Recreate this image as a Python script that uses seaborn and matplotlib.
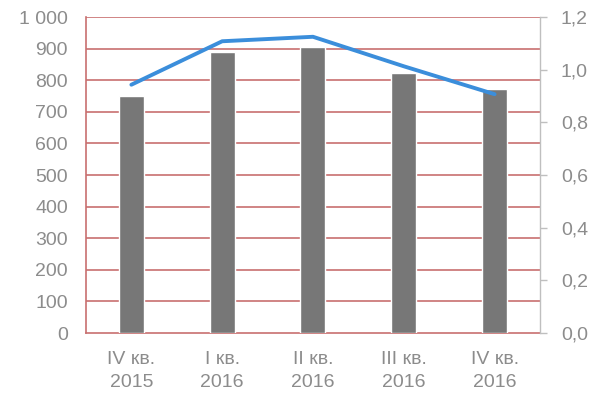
import matplotlib
matplotlib.use("Agg")
import matplotlib.pyplot as plt
import seaborn as sns
import pandas as pd
from matplotlib.ticker import FuncFormatter

categories = ["IV кв.\n2015", "I кв.\n2016", "II кв.\n2016", "III кв.\n2016", "IV кв.\n2016"]
bar_values = [750, 889, 904, 824, 771]
line_values = [0.943, 1.108, 1.125, 1.013, 0.907]
left_ticks = [0, 100, 200, 300, 400, 500, 600, 700, 800, 900, 1000]
right_ticks = [0.0, 0.2, 0.4, 0.6, 0.8, 1.0, 1.2]

sns.set_theme(style="white")
plt.rcParams['font.family'] = ['Liberation Sans', 'DejaVu Sans']

df = pd.DataFrame({"cat": categories, "bar": bar_values, "line": line_values})

fig = plt.figure(figsize=(5.97, 3.96), dpi=100)
ax = fig.add_axes([0.144, 0.159, 0.7605, 0.798])

txt = "#8C8C8C"
grid = "#C8706F"

sns.barplot(data=df, x="cat", y="bar", color="#777777", saturation=1, width=0.275, ax=ax, zorder=3)
ax.set_ylim(0, 1000)
ax.set_yticks(left_ticks)
ax.yaxis.set_major_formatter(FuncFormatter(lambda v, p: f"{int(v):,}".replace(",", " ")))
ax.set_xlim(-0.5, 4.5)
ax.set_xticks(range(len(categories)), labels=categories, linespacing=1.45)
ax.set_xlabel("")
ax.set_ylabel("")
for y in left_ticks[1:]:
    ax.axhline(y, color=grid, lw=1.2, zorder=1)
ax.tick_params(axis="y", colors=txt, labelsize=14, length=0, pad=13)
ax.tick_params(axis="x", colors=txt, labelsize=14, length=0, pad=13)
for s in ["left", "bottom"]:
    ax.spines[s].set_color(grid)
    ax.spines[s].set_linewidth(1.2)
ax.spines["top"].set_visible(False)
ax.spines["right"].set_visible(False)

ax2 = ax.twinx()
sns.lineplot(data=df, x="cat", y="line", color="#3B8EDB", lw=2.8, ax=ax2, zorder=4, sort=False)
ax2.set_ylim(0, 1.2)
ax2.set_yticks(right_ticks)
ax2.yaxis.set_major_formatter(FuncFormatter(lambda v, p: f"{v:.1f}".replace(".", ",")))
ax2.set_ylabel("")
ax2.tick_params(axis="y", colors="#BFBFBF", labelcolor=txt, labelsize=14, length=5, width=1, direction="out", pad=10)
for s in ["left", "top", "bottom"]:
    ax2.spines[s].set_visible(False)
ax2.spines["right"].set_color("#BFBFBF")
ax2.spines["right"].set_linewidth(1)
ax2.grid(False)
ax2.set_xlim(-0.5, 4.5)

fig.savefig("out.png", dpi=100)
